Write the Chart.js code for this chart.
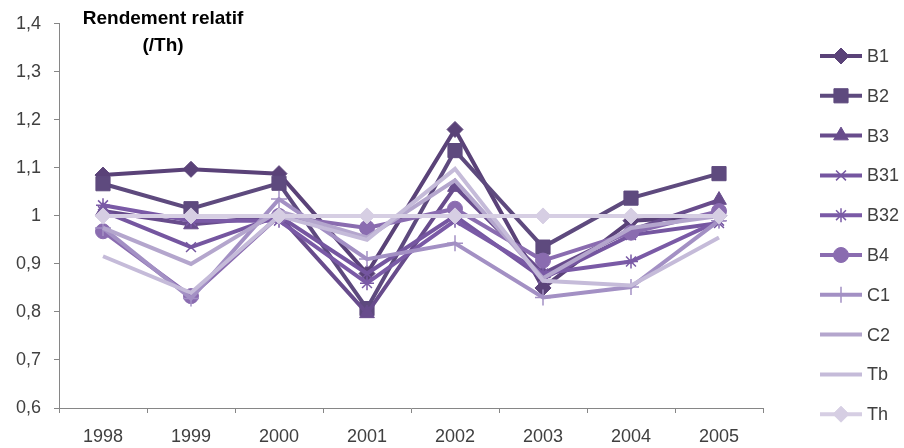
<!DOCTYPE html>
<html>
<head>
<meta charset="utf-8">
<script src="https://cdn.jsdelivr.net/npm/chart.js@4"></script>
<style>
  html, body { margin: 0; padding: 0; background: #fff; }
  #wrap { width: 904px; height: 448px; }
</style>
</head>
<body>
<div id="wrap"><canvas id="c" width="904" height="448"></canvas></div>
<script>
// Relative yield per variety, expressed against the reference Th
const years = ['1998', '1999', '2000', '2001', '2002', '2003', '2004', '2005'];
const seriesNames = ['B1', 'B2', 'B3', 'B31', 'B32', 'B4', 'C1', 'C2', 'Tb', 'Th'];
const B1  = [1.085, 1.097, 1.088, 0.880, 1.180, 0.850, 0.990, 1.000];
const B2  = [1.067, 1.015, 1.068, 0.807, 1.136, 0.935, 1.037, 1.088];
const B3  = [1.010, 0.982, 1.000, 0.797, 1.060, 0.880, 0.970, 1.033];
const B31 = [1.010, 0.935, 1.000, 0.880, 1.000, 0.870, 0.960, 0.985];
const B32 = [1.022, 0.990, 0.990, 0.860, 0.990, 0.880, 0.905, 0.990];
const B4  = [0.968, 0.833, 1.000, 0.975, 1.015, 0.907, 0.965, 1.010];
const C1  = [0.975, 0.828, 1.035, 0.910, 0.943, 0.830, 0.852, 0.990];
const C2  = [0.975, 0.900, 1.010, 0.955, 1.074, 0.870, 0.975, 1.000];
const Tb  = [0.916, 0.840, 1.000, 0.950, 1.098, 0.865, 0.855, 0.955];
const Th  = [1.000, 1.000, 1.000, 1.000, 1.000, 1.000, 1.000, 1.000];
const yTicks = [0.6, 0.7, 0.8, 0.9, 1.0, 1.1, 1.2, 1.3, 1.4];

const values = [B1, B2, B3, B31, B32, B4, C1, C2, Tb, Th];
const colors = ['#5a4278', '#5e4a7e', '#684c8c', '#7556a0', '#7a5aa6', '#8a6cb0',
                '#a390c4', '#b4a6cd', '#c5bbd9', '#d6cee3'];
const styles = [
  { s: 'rectRot',  r: 8,   bw: 1 },
  { s: 'rect',     r: 10,  bw: 1 },
  { s: 'triangle', r: 8.5, bw: 1 },
  { s: 'crossRot', r: 7,   bw: 1.5 },
  { s: 'star',     r: 7,   bw: 1.5 },
  { s: 'circle',   r: 7.5, bw: 1 },
  { s: 'cross',    r: 8,   bw: 1.5 },
  { s: false,      r: 0,   bw: 0 },
  { s: false,      r: 0,   bw: 0 },
  { s: 'rectRot',  r: 8,   bw: 1 }
];

const FONT = 'Liberation Sans';
const TEXT = '#404040';

const datasets = seriesNames.map((name, i) => ({
  label: name,
  data: values[i],
  borderColor: colors[i],
  backgroundColor: colors[i],
  borderWidth: 4,
  pointStyle: styles[i].s,
  pointRadius: styles[i].r,
  pointBorderWidth: styles[i].bw,
  pointBackgroundColor: colors[i],
  pointBorderColor: colors[i],
  tension: 0,
  order: seriesNames.length - 1 - i
}));

// Legend: line segment with its marker, stacked on the right
const sideLegend = {
  id: 'sideLegend',
  afterDraw(chart) {
    const ctx = chart.ctx;
    const x0 = 820, x1 = 862, y0 = 56, step = 39.8;
    ctx.save();
    chart.data.datasets.forEach((ds, i) => {
      const y = y0 + i * step;
      ctx.strokeStyle = ds.borderColor;
      ctx.lineWidth = 4;
      ctx.beginPath();
      ctx.moveTo(x0, y);
      ctx.lineTo(x1, y);
      ctx.stroke();
      if (ds.pointStyle) {
        ctx.fillStyle = ds.pointBackgroundColor;
        ctx.strokeStyle = ds.pointBorderColor;
        ctx.lineWidth = ds.pointBorderWidth;
        Chart.helpers.drawPoint(ctx, {
          pointStyle: ds.pointStyle,
          radius: ds.pointRadius,
          borderWidth: ds.pointBorderWidth,
          rotation: 0
        }, (x0 + x1) / 2, y);
      }
      ctx.fillStyle = TEXT;
      ctx.font = '18px "' + FONT + '"';
      ctx.textBaseline = 'middle';
      ctx.textAlign = 'left';
      ctx.fillText(ds.label, x1 + 5, y + 1);
    });
    // Title inside the plot
    ctx.fillStyle = '#000';
    ctx.font = 'bold 19px "' + FONT + '"';
    ctx.textAlign = 'center';
    ctx.textBaseline = 'middle';
    ctx.fillText('Rendement relatif', 163, 19);
    ctx.fillText('(/Th)', 163, 46);
    ctx.restore();
  }
};

new Chart(document.getElementById('c'), {
  type: 'line',
  data: { labels: years, datasets },
  options: {
    responsive: false,
    animation: false,
    events: [],
    layout: { padding: { top: 23, right: 141, bottom: 0, left: 0 } },
    plugins: { legend: { display: false }, tooltip: { enabled: false }, title: { display: false } },
    scales: {
      x: {
        type: 'category',
        offset: true,
        afterFit(s) { s.height = 40; },
        border: { display: true, color: '#868686', width: 1 },
        grid: { display: true, drawOnChartArea: false, drawTicks: true, tickLength: 5, color: '#868686', offset: true },
        ticks: { color: TEXT, font: { family: FONT, size: 18 }, padding: 13, maxRotation: 0 }
      },
      y: {
        min: 0.6,
        max: 1.4,
        afterFit(s) { s.width = 59; },
        afterBuildTicks(s) { s.ticks = yTicks.map(v => ({ value: v })); },
        border: { display: true, color: '#868686', width: 1 },
        grid: { display: true, drawOnChartArea: false, drawTicks: true, tickLength: 5, color: '#868686' },
        ticks: {
          color: TEXT,
          font: { family: FONT, size: 18 },
          padding: 13,
          callback: v => (Math.round(v * 10) / 10 === 1 ? '1' : String(Math.round(v * 10) / 10).replace('.', ','))
        }
      }
    }
  },
  plugins: [sideLegend]
});
</script>
</body>
</html>
